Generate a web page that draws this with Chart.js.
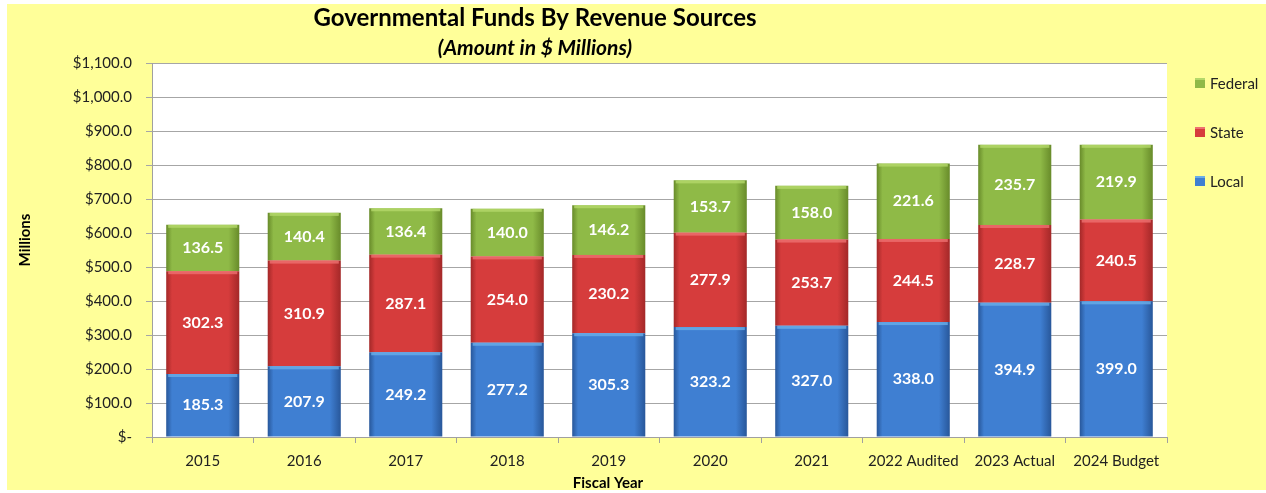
<!DOCTYPE html>
<html><head><meta charset="utf-8">
<script src="https://cdn.jsdelivr.net/npm/chart.js@4.4.1/dist/chart.umd.min.js"></script>
<style>html,body{margin:0;padding:0;background:#fff;}#wrap{width:1266px;height:493px;}</style>
</head><body><div id="wrap"><canvas id="c" width="1266" height="493"></canvas></div>
<script>
const categories = ['2015','2016','2017','2018','2019','2020','2021','2022 Audited','2023 Actual','2024 Budget'];
const localVals = [185.3,207.9,249.2,277.2,305.3,323.2,327.0,338.0,394.9,399.0];
const stateVals = [302.3,310.9,287.1,254.0,230.2,277.9,253.7,244.5,228.7,240.5];
const federalVals = [136.5,140.4,136.4,140.0,146.2,153.7,158.0,221.6,235.7,219.9];
const yTickMax = 1100, yTickStep = 100;
const FONT = 'Lato, "Open Sans", sans-serif';

const palette = {
  Local: ['#28579a','#3f7fd2','#28579a','#6aaee8'],
  State: ['#a32828','#d63c3c','#a32828','#ee7070'],
  Federal: ['#688b2a','#8fba47','#688b2a','#b4d86a']
};
function grad(chart, idx, cols){
  const xs = chart.scales.x;
  if(!xs || xs.left===undefined) return cols[1];
  const cx = xs.getPixelForValue(idx);
  const half = (xs.width/categories.length)*0.72/2;
  const g = chart.ctx.createLinearGradient(cx-half,0,cx+half,0);
  g.addColorStop(0,cols[0]); g.addColorStop(0.08,cols[1]); g.addColorStop(0.85,cols[1]); g.addColorStop(1,cols[2]);
  return g;
}
function ds(label, data){
  const cols = palette[label];
  return {label, data, borderWidth:0, barPercentage:0.72, categoryPercentage:1,
    backgroundColor: c => grad(c.chart, c.dataIndex, cols)};
}
const bgPlugin = {
  id:'bg',
  beforeDraw(chart){
    const ctx = chart.ctx, a = chart.chartArea;
    ctx.save();
    ctx.fillStyle='#ffffff'; ctx.fillRect(0,0,chart.width,chart.height);
    ctx.fillStyle='#ffff99'; ctx.fillRect(7,4,chart.width-7,486);
    ctx.fillStyle='#ffffff'; ctx.fillRect(a.left,a.top,a.right-a.left,a.bottom-a.top);
    ctx.restore();
  },
  afterDatasetsDraw(chart){
    const ctx = chart.ctx;
    ctx.save();
    chart.data.datasets.forEach((d,di)=>{
      const meta = chart.getDatasetMeta(di);
      const cols = palette[d.label];
      meta.data.forEach((el)=>{
        const w = el.width, x0 = el.x - w/2;
        ctx.fillStyle = cols[3]; ctx.globalAlpha = 0.8;
        ctx.fillRect(x0+2, el.y, w-4, 3);
        ctx.globalAlpha = 1;
      });
    });
    ctx.fillStyle='#ffffff'; ctx.font='bold 16px '+FONT; ctx.textAlign='center'; ctx.textBaseline='middle';
    chart.data.datasets.forEach((d,di)=>{
      const meta = chart.getDatasetMeta(di);
      meta.data.forEach((el,i)=>{
        ctx.fillText(d.data[i].toFixed(1), el.x, (el.y+el.base)/2);
      });
    });
    ctx.fillStyle='#000'; ctx.textBaseline='middle';
    ctx.font='bold 24px '+FONT; ctx.fillText('Governmental Funds By Revenue Sources', 535, 18);
    ctx.font='italic bold 21px '+FONT; ctx.fillText('(Amount in $ Millions)', 535, 48);
    ctx.font='bold 15px '+FONT; ctx.fillText('Fiscal Year', 608, 483);
    ctx.save(); ctx.translate(25,240); ctx.rotate(-Math.PI/2); ctx.fillText('Millions',0,0); ctx.restore();
    const items=[['Federal',83],['State',132],['Local',181]];
    ctx.textAlign='left'; ctx.font='15px '+FONT;
    items.forEach(([lab,y])=>{
      const cols=palette[lab];
      ctx.fillStyle=cols[1]; ctx.fillRect(1195,y-5,10,10);
      ctx.fillStyle=cols[3]; ctx.fillRect(1195,y-5,10,2);
      ctx.fillStyle='#222'; ctx.fillText(lab,1210,y+1);
    });
    ctx.restore();
  }
};
new Chart(document.getElementById('c'),{
  type:'bar',
  data:{labels:categories, datasets:[ds('Local',localVals), ds('State',stateVals), ds('Federal',federalVals)]},
  options:{
    responsive:false, animation:false, devicePixelRatio:1,
    layout:{padding:{top:63,right:99,left:0,bottom:0}},
    plugins:{legend:{display:false}, title:{display:false}, tooltip:{enabled:false}},
    scales:{
      x:{stacked:true, offset:true,
        grid:{display:true, drawOnChartArea:false, offset:true, color:'#a0a0a0', tickLength:6},
        border:{color:'#a0a0a0'},
        ticks:{color:'#222', font:{family:FONT,size:15}, padding:9, maxRotation:0, autoSkip:false},
        afterFit(s){ s.height = 56; }
      },
      y:{stacked:true, min:0, max:yTickMax,
        grid:{color:'#a6a6a6', tickLength:6},
        border:{color:'#a0a0a0'},
        ticks:{stepSize:yTickStep, color:'#222', font:{family:FONT,size:15}, padding:14,
          callback:v=> v===0 ? '$-' : '$'+Number(v).toLocaleString('en-US',{minimumFractionDigits:1,maximumFractionDigits:1})},
        afterFit(s){ s.width = 152; }
      }
    }
  },
  plugins:[bgPlugin]
});
</script></body></html>
